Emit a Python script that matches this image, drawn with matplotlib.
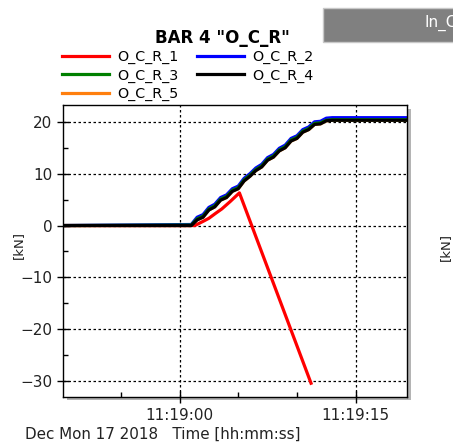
import numpy as np
import matplotlib.pyplot as plt
from matplotlib.patches import Rectangle
from matplotlib.ticker import MultipleLocator, FuncFormatter

# time in seconds relative to 11:19:00
red_t = [-10, 1.3, 2.0, 2.5, 3.1, 3.6, 4.3, 5.1, 11.2]
red_v = [0, 0, 0.8, 1.4, 2.4, 3.2, 4.6, 6.3, -30.4]

step_t = [-10, 1.0, 1.5, 2.0, 2.5, 3.0, 3.5, 4.0, 4.5, 5.0, 5.5, 6.0, 6.5,
          7.0, 7.5, 8.0, 8.5, 9.0, 9.5, 10.0, 10.5, 11.0, 11.5, 12.0, 12.5,
          13.0, 19.5]
black_v = [0, 0, 1.1, 1.6, 3.0, 3.6, 4.9, 5.4, 6.6, 7.1, 8.6, 9.5, 10.6,
           11.3, 12.6, 13.2, 14.4, 15.0, 16.3, 16.8, 18.0, 18.5, 19.5, 19.6,
           20.2, 20.3, 20.3]
blue_v = [0, 0.2, 1.6, 2.1, 3.5, 4.1, 5.4, 5.9, 7.1, 7.6, 9.1, 10.0, 11.1,
          11.8, 13.1, 13.7, 14.9, 15.5, 16.8, 17.3, 18.5, 19.0, 20.0, 20.1,
          20.7, 20.8, 20.8]
green_v = [0, 0.1, 1.3, 1.8, 3.2, 3.8, 5.1, 5.6, 6.8, 7.3, 8.8, 9.7, 10.8,
           11.5, 12.8, 13.4, 14.6, 15.2, 16.5, 17.0, 18.2, 18.7, 19.7, 19.8,
           20.3, 20.4, 20.4]
orange_v = black_v

names = ["O_C_R_1", "O_C_R_2", "O_C_R_3", "O_C_R_4", "O_C_R_5"]
colors = ["#ff0000", "#0000ff", "#008000", "#000000", "#ff7f0e"]

W, H = 453, 442
fig = plt.figure(figsize=(W / 100, H / 100), dpi=100)

def px(x0, y0, x1, y1):
    return [x0 / W, 1 - y1 / H, (x1 - x0) / W, (y1 - y0) / H]

# drop shadow behind the plot area
sh = px(67, 109, 411, 400)
fig.patches.append(Rectangle((sh[0], sh[1]), sh[2], sh[3], transform=fig.transFigure,
                             facecolor="#b4b4b4", edgecolor="none", zorder=0))

ax = fig.add_axes(px(63.3, 104.7, 407.3, 396.7))
ax.set_zorder(1)

lw = 2.3
l5, = ax.plot(step_t, orange_v, color=colors[4], lw=lw)
l1, = ax.plot(red_t, red_v, color=colors[0], lw=lw)
l2, = ax.plot(step_t, blue_v, color=colors[1], lw=lw)
l3, = ax.plot(step_t, green_v, color=colors[2], lw=lw)
l4, = ax.plot(step_t, black_v, color=colors[3], lw=lw)

ax.set_xlim(-9.9, 19.4)
ax.set_ylim(-33.0, 23.3)
ax.xaxis.set_major_locator(MultipleLocator(15))
ax.xaxis.set_minor_locator(MultipleLocator(5))
ax.yaxis.set_major_locator(MultipleLocator(10))
ax.yaxis.set_minor_locator(MultipleLocator(5))
ax.xaxis.set_major_formatter(FuncFormatter(lambda v, p: "11:19:%02d" % int(round(v)) if v >= 0 else "11:18:%02d" % int(round(60 + v))))
ax.grid(True, which="major", color="black", linestyle=(0, (2, 2)), linewidth=0.9)
ax.tick_params(which="major", direction="inout", length=9, width=1, labelsize=11, labelcolor="#222222")
ax.tick_params(which="minor", direction="in", length=3.6, width=1)
for s in ax.spines.values():
    s.set_linewidth(1)

fig.text(222.7 / W, 1 - 38.3 / H, 'BAR 4 "O_C_R"', ha="center", va="center",
         fontsize=12, fontweight="bold")

fig.legend([l1, l3, l5, l2, l4], [names[0], names[2], names[4], names[1], names[3]],
           ncol=2, loc="upper left", bbox_to_anchor=(62 / W, 1 - 50 / H),
           frameon=False, fontsize=10.3, handlelength=3.3, handletextpad=0.55,
           columnspacing=1.3, labelspacing=0.3, borderpad=0, borderaxespad=0)

fig.text(18 / W, 1 - 245 / H, "[kN]", rotation=90, ha="center", va="center",
         fontsize=9.5, color="#222222")
fig.text(25 / W, 1 - 434 / H, "Dec Mon 17 2018   Time [hh:mm:ss]", ha="left",
         va="center", fontsize=10.9, color="#222222")

# neighbouring chart pieces visible at the right edge
fig.patches.append(Rectangle((322.7 / W, 1 - 41.7 / H), 140 / W, 33.4 / H,
                             transform=fig.transFigure, facecolor="#808080",
                             edgecolor="#c8c8c8", linewidth=1, zorder=0))
fig.text(425 / W, 1 - 23 / H, "In_C", ha="left", va="center", fontsize=11, color="white")
fig.text(445 / W, 1 - 247 / H, "[kN]", rotation=90, ha="center", va="center",
         fontsize=9.5, color="#222222")

fig.savefig("out.png", dpi=100)
